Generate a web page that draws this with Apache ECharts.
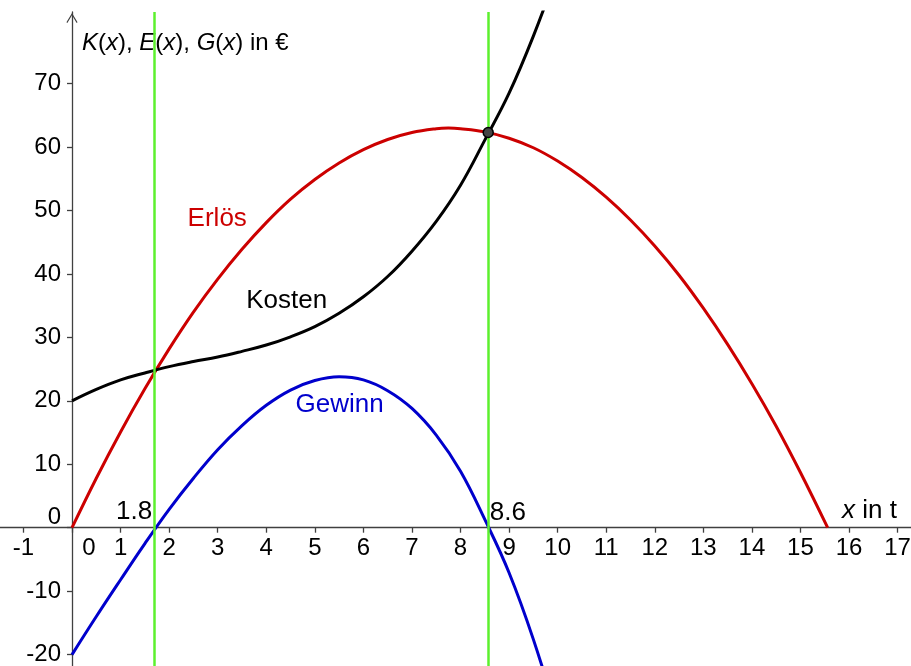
<!DOCTYPE html>
<html>
<head>
<meta charset="utf-8">
<title>Kosten, Erlös, Gewinn</title>
<script src="https://cdn.jsdelivr.net/npm/echarts@6/dist/echarts.min.js"></script>
<style>
  html, body { margin: 0; padding: 0; background: #fff; }
  #chart { width: 911px; height: 666px; }
</style>
</head>
<body>
<div id="chart"></div>
<script>
// Stützstellen x in t
var xWerte = [0, 0.5, 1, 1.5, 2, 2.5, 3, 3.5, 4, 4.5, 5, 5.5, 6, 6.5, 7, 7.5, 8, 8.5, 9, 9.5, 10]
var kosten = [20, 21.8, 23.3, 24.4, 25.4, 26.2, 26.9, 27.8, 28.8, 30.1, 31.7, 33.8, 36.4, 39.6, 43.6, 48.3, 54.0, 61.1, 68.5, 77.5, 87.8]
var gewinn = [-20, -14.0, -8.2, -2.5, 2.9, 7.8, 12.3, 16.1, 19.3, 21.7, 23.2, 23.8, 23.3, 21.6, 18.8, 14.6, 8.9, 1.3, -7.1, -17.6, -30.0]

var xErloes = [0, 0.5, 1, 1.5, 2, 2.5, 3, 3.5, 4, 4.5, 5, 5.5, 6, 6.5, 7, 7.5, 7.75, 8, 8.5, 9, 9.5, 10, 10.5, 11, 11.5, 12, 12.5, 13, 13.5, 14, 14.5, 15, 15.56]
var erloes = [0, 7.8, 15.1, 21.9, 28.2, 34.0, 39.2, 43.9, 48.1, 51.8, 54.9, 57.5, 59.6, 61.2, 62.3, 62.9, 63.0, 62.9, 62.4, 61.4, 59.9, 57.8, 55.2, 52.1, 48.5, 44.4, 39.8, 34.6, 28.9, 22.7, 16.0, 8.7, 0]

// Gewinnschwelle / -grenze (gezeichnete Lage) und ihre Beschriftung
var grenzenX = [1.7, 8.57]
var grenzenText = ['1.8', '8.6']
var schnittpunkt = [8.57, 62.3]

var xTicks = [-1, 0, 1, 2, 3, 4, 5, 6, 7, 8, 9, 10, 11, 12, 13, 14, 15, 16, 17]
var yTicks = [-20, -10, 0, 10, 20, 30, 40, 50, 60, 70]

var FONT = 'Liberation Sans, Arial, sans-serif'
var ROT = '#cc0000'
var BLAU = '#0000cc'
var GRUEN = '#5cf02e'
var ACHSE = '#404040'
var LEER = 'rgba(0,0,0,0)'

function paare(xs, ys) {
  var out = []
  for (var i = 0; i < xs.length; i++) {
    out.push([xs[i], ys[i]])
  }
  return out
}

var chart = echarts.init(document.getElementById('chart'))

var pfeil = 'path://M0,10 L6,0 L12,10 L11,10.8 L6,2.4 L1,10.8 Z'

// Achsen durch den Ursprung: x=0 liegt bei 72px, y=0 bei 527.7px
chart.setOption({
  animation: false,
  backgroundColor: '#fff',
  grid: { left: 0, right: -6, top: 12, bottom: 0, containLabel: false, outerBoundsMode: 'none' },
  xAxis: {
    type: 'value',
    position: 'bottom',
    offset: -138.3,
    min: -1.483,
    max: 17.4,
    splitLine: { show: false },
    axisLine: {
      onZero: false,
      symbol: ['none', pfeil],
      symbolSize: [12, 10],
      lineStyle: { color: ACHSE, width: 1.3 }
    },
    axisTick: { customValues: xTicks, length: 5, lineStyle: { color: ACHSE, width: 1.3 } },
    axisLabel: {
      customValues: xTicks,
      margin: 9,
      color: '#000',
      fontFamily: FONT,
      fontSize: 24,
      formatter: function (v) {
        return v === 0 ? '{null|0}' : String(v)
      },
      rich: {
        null: { fontFamily: FONT, fontSize: 24, color: '#000', padding: [0, 0, 0, 34] }
      }
    },
    name: '{i|x} in t',
    nameLocation: 'end',
    nameGap: -20,
    nameTextStyle: {
      align: 'right',
      verticalAlign: 'bottom',
      fontFamily: FONT,
      fontSize: 26,
      color: '#000',
      padding: [0, 0, 4, 0],
      rich: {
        i: { fontFamily: FONT, fontSize: 26, fontStyle: 'italic', color: '#000' }
      }
    }
  },
  yAxis: {
    type: 'value',
    position: 'left',
    offset: -72,
    min: -21.8,
    max: 81.3,
    splitLine: { show: false },
    axisLine: {
      onZero: false,
      symbol: ['none', pfeil],
      symbolSize: [14, 10],
      symbolOffset: [0, -6],
      lineStyle: { color: ACHSE, width: 1.3 }
    },
    axisTick: { customValues: yTicks, length: 5, lineStyle: { color: ACHSE, width: 1.3 } },
    axisLabel: {
      customValues: yTicks,
      margin: 11,
      color: '#000',
      fontFamily: FONT,
      fontSize: 24,
      formatter: function (v) {
        return v === 0 ? '{null|0}' : String(v)
      },
      rich: {
        null: { fontFamily: FONT, fontSize: 24, color: '#000', padding: [0, 0, 20, 0] }
      }
    },
    name: '{i|K}({i|x}), {i|E}({i|x}), {i|G}({i|x}) in €',
    nameLocation: 'end',
    nameGap: -31,
    nameTextStyle: {
      align: 'left',
      verticalAlign: 'middle',
      fontFamily: FONT,
      fontSize: 24,
      color: '#000',
      padding: [0, 0, 0, 10],
      rich: {
        i: { fontFamily: FONT, fontSize: 24, fontStyle: 'italic', color: '#000' }
      }
    }
  },
  series: [
    {
      name: 'Grenzen',
      type: 'line',
      data: [],
      markLine: {
        silent: true,
        symbol: 'none',
        label: { show: false },
        lineStyle: { color: GRUEN, width: 2.5, type: 'solid' },
        data: grenzenX.map(function (x) { return { xAxis: x } })
      }
    },
    {
      name: 'Erlös',
      type: 'line',
      smooth: 0.4,
      showSymbol: false,
      lineStyle: { color: ROT, width: 3 },
      data: paare(xErloes, erloes)
    },
    {
      name: 'Kosten',
      type: 'line',
      smooth: 0.4,
      showSymbol: false,
      lineStyle: { color: '#000', width: 3 },
      data: paare(xWerte, kosten)
    },
    {
      name: 'Gewinn',
      type: 'line',
      smooth: 0.4,
      showSymbol: false,
      lineStyle: { color: BLAU, width: 3 },
      data: paare(xWerte, gewinn)
    },
    {
      name: 'Schnittpunkt',
      type: 'scatter',
      symbol: 'circle',
      symbolSize: 10,
      z: 5,
      itemStyle: { color: '#444', borderColor: '#000', borderWidth: 1.5, opacity: 1 },
      data: [schnittpunkt]
    },
    {
      name: 'Beschriftung',
      type: 'scatter',
      symbolSize: 1,
      itemStyle: { color: LEER, opacity: 1 },
      label: { show: true, fontFamily: FONT, fontSize: 26, formatter: '{b}', textBorderWidth: 0 },
      data: [
        { name: 'Erlös', value: [2.99, 48.7], label: { position: 'inside', color: ROT } },
        { name: 'Kosten', value: [4.42, 35.8], label: { position: 'inside', color: '#000' } },
        { name: 'Gewinn', value: [5.51, 19.4], label: { position: 'inside', color: BLAU } },
        { name: grenzenText[0], value: [grenzenX[0], 0], label: { position: [-38, -28], color: '#000' } },
        { name: grenzenText[1], value: [grenzenX[1], 0], label: { position: [2, -27], color: '#000' } }
      ]
    }
  ]
})
</script>
</body>
</html>
